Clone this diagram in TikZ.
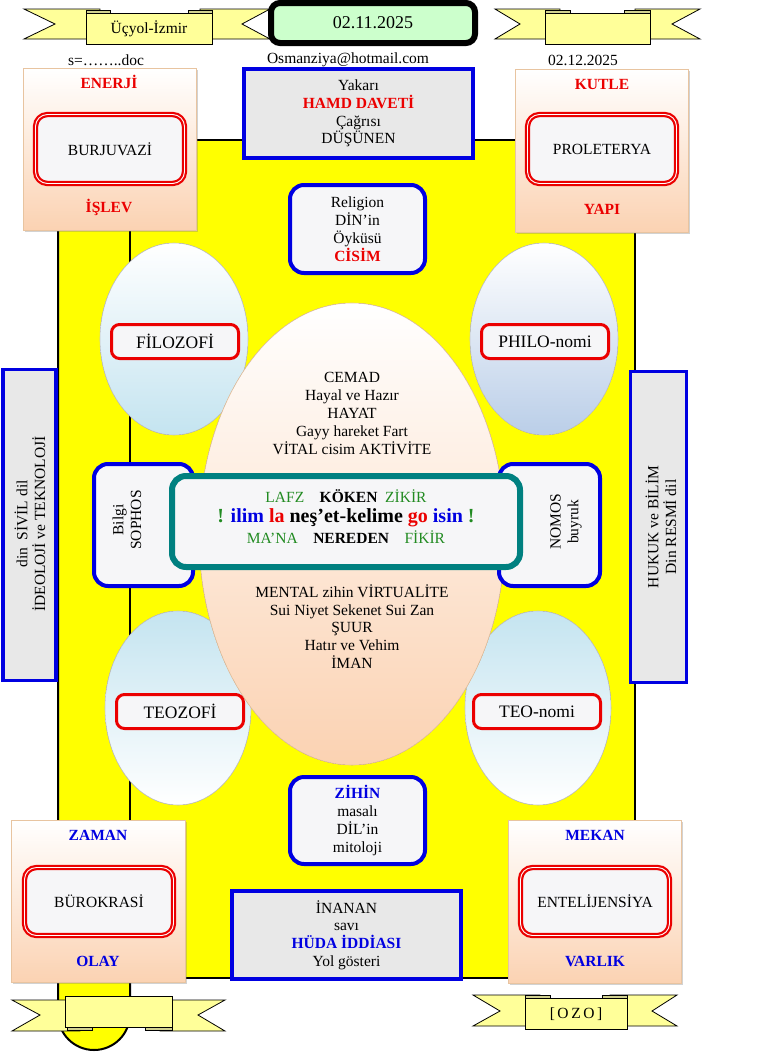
\documentclass[tikz,border=0pt]{standalone}
\usepackage{fontspec}
\setmainfont{Liberation Serif}
\usepackage{xcolor}
\usetikzlibrary{shadows,positioning}

\definecolor{scrollyellow}{RGB}{255,255,0}
\definecolor{ribbonyellow}{RGB}{255,255,153}
\definecolor{dategreen}{RGB}{204,255,204}
\definecolor{boxgrey}{RGB}{232,232,232}
\definecolor{softwhite}{RGB}{246,246,248}
\definecolor{peach}{RGB}{251,210,178}
\definecolor{peachline}{RGB}{232,196,160}
\definecolor{tealline}{RGB}{0,128,128}
\definecolor{labelgreen}{RGB}{34,139,34}
\definecolor{framered}{RGB}{235,0,0}
\definecolor{frameblue}{RGB}{0,0,225}
\definecolor{ovalblue}{RGB}{186,206,232}
\definecolor{ovalcyan}{RGB}{196,228,240}

\newcommand{\dfont}{\fontsize{15.5}{17.8}\selectfont}

\tikzset{
  cornerbox/.style={draw=peachline, line width=0.6pt, top color=white, bottom color=peach,
    inner sep=0pt, drop shadow={opacity=0.35, shadow xshift=1.5pt, shadow yshift=-1.5pt}},
  redframe/.style={draw=framered, line width=2.2pt, double=white, double distance=0.9pt,
    rounded corners=12pt, fill=softwhite, font=\dfont, inner sep=0pt},
  bluebox/.style={draw=frameblue, line width=4pt, fill=boxgrey, align=center,
    font=\dfont, inner sep=0pt},
  bluecard/.style={bluebox, rounded corners=14pt, fill=softwhite},
  ovallabel/.style={draw=framered, line width=3pt, rounded corners=8pt, fill=softwhite,
    font=\fontsize{17.5}{20}\selectfont, inner sep=0pt},
  sidebox/.style={draw=frameblue, line width=3.5pt, fill=boxgrey, inner sep=0pt},
  ribbon/.style={draw=black, line width=0.8pt, fill=ribbonyellow},
  ribbonpanel/.style={ribbon, font=\dfont, inner sep=0pt},
  foldtab/.style={draw=black, line width=0.6pt, fill=ribbonyellow!65!gray},
  oval/.style={draw=gray!45, line width=0.6pt},
  redlab/.style={font=\dfont\bfseries, text=framered},
  bluelab/.style={font=\dfont\bfseries, text=frameblue},
  plain/.style={font=\dfont, align=center},
  greenword/.style={font=\dfont, text=labelgreen}
}

\begin{document}
\begin{tikzpicture}[x=1pt, y=-1pt]
  \useasboundingbox (0,0) rectangle (771,1052);
  \fill[white] (0,0) rectangle (771,1052);

  % Draw the yellow scroll
  \filldraw[fill=scrollyellow, draw=black, line width=2pt]
    (58,180) -- (58,1014) arc[start angle=180, end angle=360, radius=36pt] -- (130,180) -- cycle;
  \filldraw[fill=scrollyellow, draw=black, line width=2pt] (130,140) rectangle (635,978);

  % Draw the four small ovals
  \filldraw[oval, top color=white, bottom color=ovalcyan] (174,339) ellipse [x radius=74pt, y radius=96pt];
  \filldraw[oval, top color=white, bottom color=ovalblue] (544,339) ellipse [x radius=74pt, y radius=96pt];
  \filldraw[oval, top color=ovalcyan, bottom color=white] (178,708) ellipse [x radius=73pt, y radius=97pt];
  \filldraw[oval, top color=ovalcyan, bottom color=white] (538,708) ellipse [x radius=73pt, y radius=97pt];

  % Draw the big oval in the middle
  \filldraw[draw=peachline, line width=0.6pt, top color=white, bottom color=peach]
    (352,534) ellipse [x radius=153pt, y radius=231pt];

  \node[plain] (upper) at (352,413.5) {CEMAD\\Hayal ve Hazır\\HAYAT\\Gayy hareket Fart\\VİTAL cisim AKTİVİTE};
  \node[plain] (lower) at (352,626.5) {MENTAL zihin VİRTUALİTE\\Sui Niyet Sekenet Sui Zan\\ŞUUR\\Hatır ve Vehim\\İMAN};

  % Labels on the small ovals
  \node[ovallabel, minimum width=127pt, minimum height=34pt] (filozofi) at (175,341.5) {FİLOZOFİ};
  \node[ovallabel, minimum width=127pt, minimum height=34pt] (philo) at (545,341.5) {PHILO-nomi};
  \node[ovallabel, minimum width=127pt, minimum height=34pt] (teozofi) at (180,711.5) {TEOZOFİ};
  \node[ovallabel, minimum width=127pt, minimum height=34pt] (teo) at (537,711.5) {TEO-nomi};

  % Blue boxes on the middle axis
  \node[bluebox, minimum width=229pt, minimum height=89pt] (hamd) at (358.5,113.5)
    {Yakarı\\{\bfseries\color{framered}HAMD DAVETİ}\\Çağrısı\\DÜŞÜNEN};
  \node[bluecard, minimum width=135pt, minimum height=88pt] (religion) at (357.5,229)
    {Religion\\DİN’in\\Öyküsü\\{\bfseries\color{framered}CİSİM}};
  \node[bluecard, minimum width=135pt, minimum height=87pt] (zihin) at (357.5,820.5)
    {{\bfseries\color{frameblue}ZİHİN}\\masalı\\DİL’in\\mitoloji};
  \node[bluebox, minimum width=229pt, minimum height=88pt] (inanan) at (346.5,935)
    {İNANAN\\savı\\{\bfseries\color{frameblue}HÜDA İDDİASI}\\Yol gösteri};

  % Side cards left and right of the centre
  \node[bluecard, minimum width=99pt, minimum height=122pt] (sophos) at (143.5,525) {};
  \node[plain, rotate=90] (sophosT) at (127,520) {Bilgi\\SOPHOS};
  \node[bluecard, minimum width=101pt, minimum height=122pt] (nomos) at (549.5,525) {};
  \node[plain, rotate=90] (nomosT) at (566,522) {NOMOS\\buyruk};

  % Centre box
  \node[draw=tealline, line width=6pt, rounded corners=14pt, fill=softwhite, inner sep=0pt,
        minimum width=348pt, minimum height=91pt] (core) at (346,521.5) {};
  \node[font=\fontsize{20}{22}\selectfont\bfseries] (motto) at (346,518)
    {\color{labelgreen}! \color{frameblue}ilim \color{framered}la \color{black}neş’et-kelime
     \color{framered}go \color{frameblue}isin \color{labelgreen}!};
  \node[font=\dfont] (askT) at (346,496)
    {\color{labelgreen}LAFZ\quad\color{black}\bfseries KÖKEN\ \ \mdseries\color{labelgreen}ZİKİR};
  \node[font=\dfont] (askB) at (346,537)
    {\color{labelgreen}MA’NA\quad\color{black}\bfseries NEREDEN\quad\mdseries\color{labelgreen}FİKİR};

  % Grey boxes on the outer sides
  \node[sidebox, minimum width=53pt, minimum height=311pt] (civil) at (29.5,525) {};
  \node[plain, rotate=90] (civilT) at (30,524) {din\ \ SİVİL dil\\İDEOLOJİ ve TEKNOLOJİ};
  \node[sidebox, minimum width=56pt, minimum height=311pt] (law) at (658.5,527) {};
  \node[plain, rotate=90] (lawT) at (661,527) {HUKUK ve BİLİM\\Din RESMİ dil};

  % Corner boxes
  \node[cornerbox, minimum width=173pt, minimum height=162pt] (enerji) at (110,149.5) {};
  \node[redframe, minimum width=149pt, minimum height=69pt] (burjuva) at (110,149) {BURJUVAZİ};
  \node[redlab] (enerjiT) at (109,82) {ENERJİ};
  \node[redlab] (enerjiB) at (109,207) {İŞLEV};

  \node[cornerbox, minimum width=173pt, minimum height=163pt] (kutle) at (602,151) {};
  \node[redframe, minimum width=149pt, minimum height=69pt] (prole) at (602,149) {PROLETERYA};
  \node[redlab] (kutleT) at (602,84) {KUTLE};
  \node[redlab] (kutleB) at (602,209) {YAPI};

  \node[cornerbox, minimum width=174pt, minimum height=162pt] (zaman) at (98.5,901.5) {};
  \node[redframe, minimum width=149pt, minimum height=68pt] (buro) at (99,901.5) {BÜROKRASİ};
  \node[bluelab] (zamanT) at (98,835) {ZAMAN};
  \node[bluelab] (zamanB) at (98,961) {OLAY};

  \node[cornerbox, minimum width=173pt, minimum height=163pt] (mekan) at (595,902) {};
  \node[redframe, minimum width=149pt, minimum height=68pt] (entel) at (595,901.5) {ENTELİJENSİYA};
  \node[bluelab] (mekanT) at (595,835) {MEKAN};
  \node[bluelab] (mekanB) at (595,961) {VARLIK};

  % Top ribbons
  \filldraw[ribbon] (24,9) -- (100,9) -- (100,39) -- (24,39) -- (55,24) -- cycle;
  \filldraw[ribbon] (270,9) -- (200,9) -- (200,39) -- (270,39) -- (242,24) -- cycle;
  \filldraw[foldtab] (86,10) rectangle (110,14);
  \filldraw[foldtab] (188,10) rectangle (212,14);
  \node[ribbonpanel, minimum width=126pt, minimum height=31pt] (place) at (149,28.5) {Üçyol-İzmir};

  \filldraw[ribbon] (495,9) -- (560,9) -- (560,39) -- (495,39) -- (520,24) -- cycle;
  \filldraw[ribbon] (700,9) -- (635,9) -- (635,39) -- (700,39) -- (672,24) -- cycle;
  \filldraw[foldtab] (545,10) rectangle (570,14);
  \filldraw[foldtab] (624,10) rectangle (650,14);
  \node[ribbonpanel, minimum width=105pt, minimum height=31pt] (blank) at (597.5,28.5) {};

  % Date box
  \node[draw=black, line width=6pt, rounded corners=9pt, fill=dategreen, inner sep=0pt,
        minimum width=204pt, minimum height=40pt, font=\fontsize{18}{20}\selectfont] (today) at (373,23) {02.11.2025};

  % Second row of text
  \node[font=\dfont] (file) at (106,60) {s=……..doc};
  \node[font=\dfont] (mail) at (348,60) {Osmanziya@hotmail.com};
  \node[font=\dfont] (later) at (583,60) {02.12.2025};

  % Bottom ribbons
  \filldraw[ribbon] (12,1000) -- (80,1000) -- (80,1031) -- (12,1031) -- (40,1015) -- cycle;
  \filldraw[ribbon] (225,1000) -- (160,1000) -- (160,1031) -- (225,1031) -- (198,1015) -- cycle;
  \filldraw[foldtab] (67,1026) rectangle (92,1030);
  \filldraw[foldtab] (145,1026) rectangle (172,1030);
  \node[ribbonpanel, minimum width=107pt, minimum height=31pt] (empty) at (118.5,1011.5) {};

  \filldraw[ribbon] (473,995) -- (540,995) -- (540,1026) -- (473,1026) -- (500,1011) -- cycle;
  \filldraw[ribbon] (677,995) -- (610,995) -- (610,1026) -- (677,1026) -- (652,1011) -- cycle;
  \filldraw[foldtab] (525,995) rectangle (550,999);
  \filldraw[foldtab] (602,995) rectangle (627,999);
  \node[ribbonpanel, minimum width=102pt, minimum height=31pt] (ozo) at (576,1014) {[\,O\,Z\,O\,]};
\end{tikzpicture}
\end{document}
